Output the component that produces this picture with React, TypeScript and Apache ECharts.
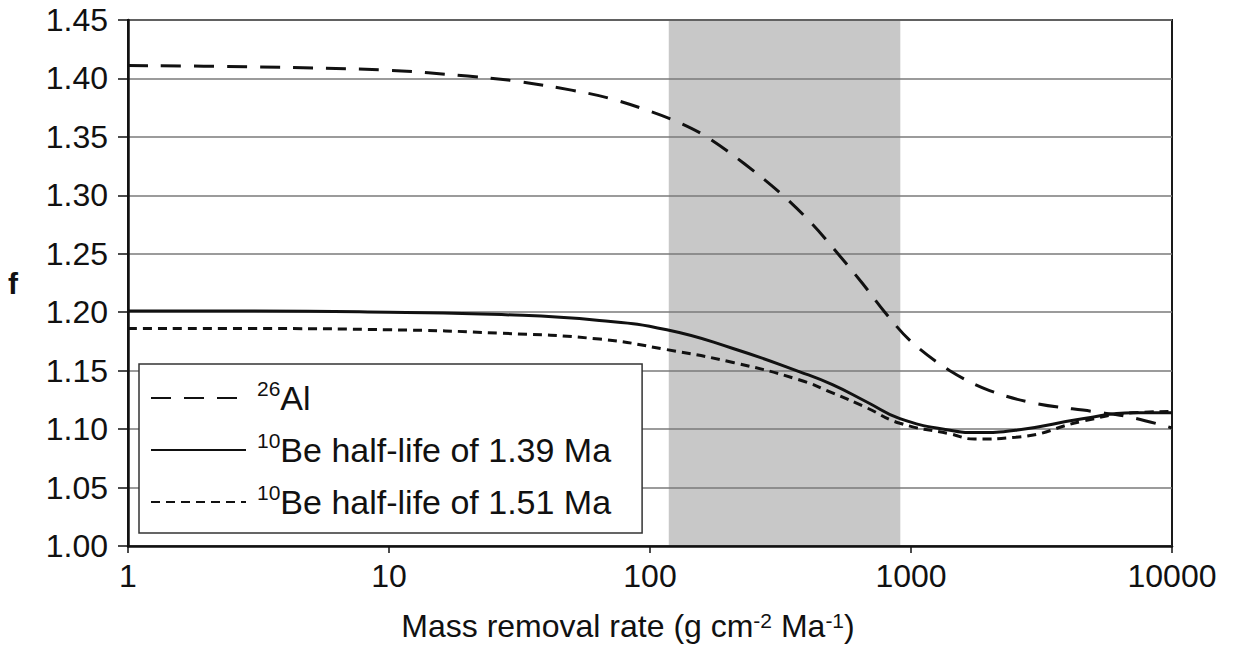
import React, { useEffect, useRef } from "react";
import * as echarts from "echarts";

// ---- data ----
const X_TICKS = [1, 10, 100, 1000, 10000];
const Y_TICKS = ["1.00", "1.05", "1.10", "1.15", "1.20", "1.25", "1.30", "1.35", "1.40", "1.45"];

const AL_X = [1, 3, 10, 20, 30, 50, 70, 100, 130, 165, 230, 323, 420, 525, 650, 794, 1000, 1410, 2000, 3000, 5000, 7000, 10000];
const AL_Y = [1.411, 1.41, 1.407, 1.402, 1.398, 1.39, 1.383, 1.372, 1.362, 1.35, 1.327, 1.3, 1.275, 1.25, 1.225, 1.2, 1.175, 1.15, 1.133, 1.122, 1.115, 1.11, 1.101];

const BE139_X = [1, 3, 10, 27, 64, 116, 208, 375, 500, 680, 907, 1410, 1780, 2520, 4600, 7100, 10000];
const BE139_Y = [1.201, 1.201, 1.2, 1.198, 1.193, 1.185, 1.169, 1.149, 1.138, 1.123, 1.109, 1.099, 1.097, 1.099, 1.109, 1.114, 1.114];

const BE151_X = [1, 3, 10, 27, 64, 116, 208, 375, 500, 680, 907, 1410, 1750, 2520, 4600, 7100, 10000];
const BE151_Y = [1.186, 1.186, 1.185, 1.182, 1.177, 1.168, 1.157, 1.142, 1.131, 1.118, 1.105, 1.096, 1.0915, 1.093, 1.107, 1.114, 1.115];

const SHADE_RANGE = [118, 910];

const SERIES_NAMES = ["{sup|26}Al", "{sup|10}Be half-life of 1.39 Ma", "{sup|10}Be half-life of 1.51 Ma"];

const pairs = (xs: number[], ys: number[]) => xs.map((x, i) => [x, ys[i]]);

export default function App() {
  const ref = useRef<HTMLDivElement>(null);
  useEffect(() => {
    document.body.style.margin = "0";
    const chart = echarts.init(ref.current!, null, { renderer: "svg" });
    const font = "'Liberation Sans', Arial, Helvetica, sans-serif";
    const supRich = { sup: { fontSize: 21, verticalAlign: "top", fontFamily: font, color: "#111" } };
    chart.setOption({
      animation: false,
      backgroundColor: "#fff",
      textStyle: { fontFamily: font },
      grid: {
        left: 128, right: 63, top: 20, bottom: 111,
        show: true, z: 2, backgroundColor: "transparent",
        borderColor: "#1a1a1a", borderWidth: 2,
      },
      legend: {
        left: 139, top: 364,
        orient: "vertical",
        data: SERIES_NAMES,
        itemWidth: 95, itemHeight: 14, itemGap: 12,
        padding: [14, 31, 11, 11],
        backgroundColor: "#fff",
        borderColor: "#333", borderWidth: 1.5,
        selectedMode: false,
        z: 10,
        itemStyle: { opacity: 0 },
        textStyle: {
          fontSize: 34, color: "#111", fontFamily: font, lineHeight: 40,
          padding: [0, 0, 0, 6], rich: supRich,
        },
      },
      xAxis: {
        type: "log", logBase: 10, min: X_TICKS[0], max: X_TICKS[X_TICKS.length - 1],
        z: 2,
        axisLine: { show: true, lineStyle: { color: "#111", width: 2.5 } },
        axisTick: { show: true, inside: false, length: 7, lineStyle: { color: "#111", width: 1.5 } },
        axisLabel: {
          fontSize: 32, color: "#111", margin: 14, fontFamily: font,
          formatter: (v: number) => String(Math.round(v)),
        },
        splitLine: { show: false },
        minorTick: { show: false },
        name: "Mass removal rate (g cm{sup|-2} Ma{sup|-1})",
        nameLocation: "middle", nameGap: 64,
        nameTextStyle: {
          fontSize: 32, color: "#111", fontFamily: font,
          padding: [0, 44, 0, 0], rich: supRich,
        },
      },
      yAxis: {
        type: "value", min: 1, max: 1.45, interval: 0.05,
        z: 2,
        axisLine: { show: true, lineStyle: { color: "#111", width: 2.5 } },
        axisTick: { show: true, inside: false, length: 10, lineStyle: { color: "#111", width: 1.5 } },
        axisLabel: {
          fontSize: 32, color: "#111", margin: 20, fontFamily: font,
          formatter: (v: number) => Y_TICKS[Math.round((v - 1) / 0.05)] ?? v.toFixed(2),
        },
        splitLine: { show: true, lineStyle: { color: "#7a7a7a", width: 1.5 } },
        name: "f", nameLocation: "middle", nameGap: 110, nameRotate: 0,
        nameTextStyle: { fontSize: 30, fontWeight: "bold", color: "#111", fontFamily: font },
      },
      series: [
        {
          type: "line", name: "shade", data: [], z: 1, silent: true,
          markArea: {
            silent: true,
            itemStyle: { color: "#c8c8c8" },
            data: [[{ xAxis: SHADE_RANGE[0] }, { xAxis: SHADE_RANGE[1] }]],
          },
        },
        {
          type: "line", name: SERIES_NAMES[0], data: pairs(AL_X, AL_Y), z: 3,
          symbol: "none", smooth: 0.35,
          lineStyle: { color: "#111", width: 3, type: [20, 13] },
          itemStyle: { color: "#111" },
        },
        {
          type: "line", name: SERIES_NAMES[1], data: pairs(BE139_X, BE139_Y), z: 3,
          symbol: "none", smooth: 0.5,
          lineStyle: { color: "#111", width: 3, type: "solid" },
          itemStyle: { color: "#111" },
        },
        {
          type: "line", name: SERIES_NAMES[2], data: pairs(BE151_X, BE151_Y), z: 3,
          symbol: "none", smooth: 0.5,
          lineStyle: { color: "#111", width: 3, type: [9, 6] },
          itemStyle: { color: "#111" },
        },
      ],
    });
    return () => chart.dispose();
  }, []);
  return <div ref={ref} style={{ width: 1235, height: 657 }} />;
}
